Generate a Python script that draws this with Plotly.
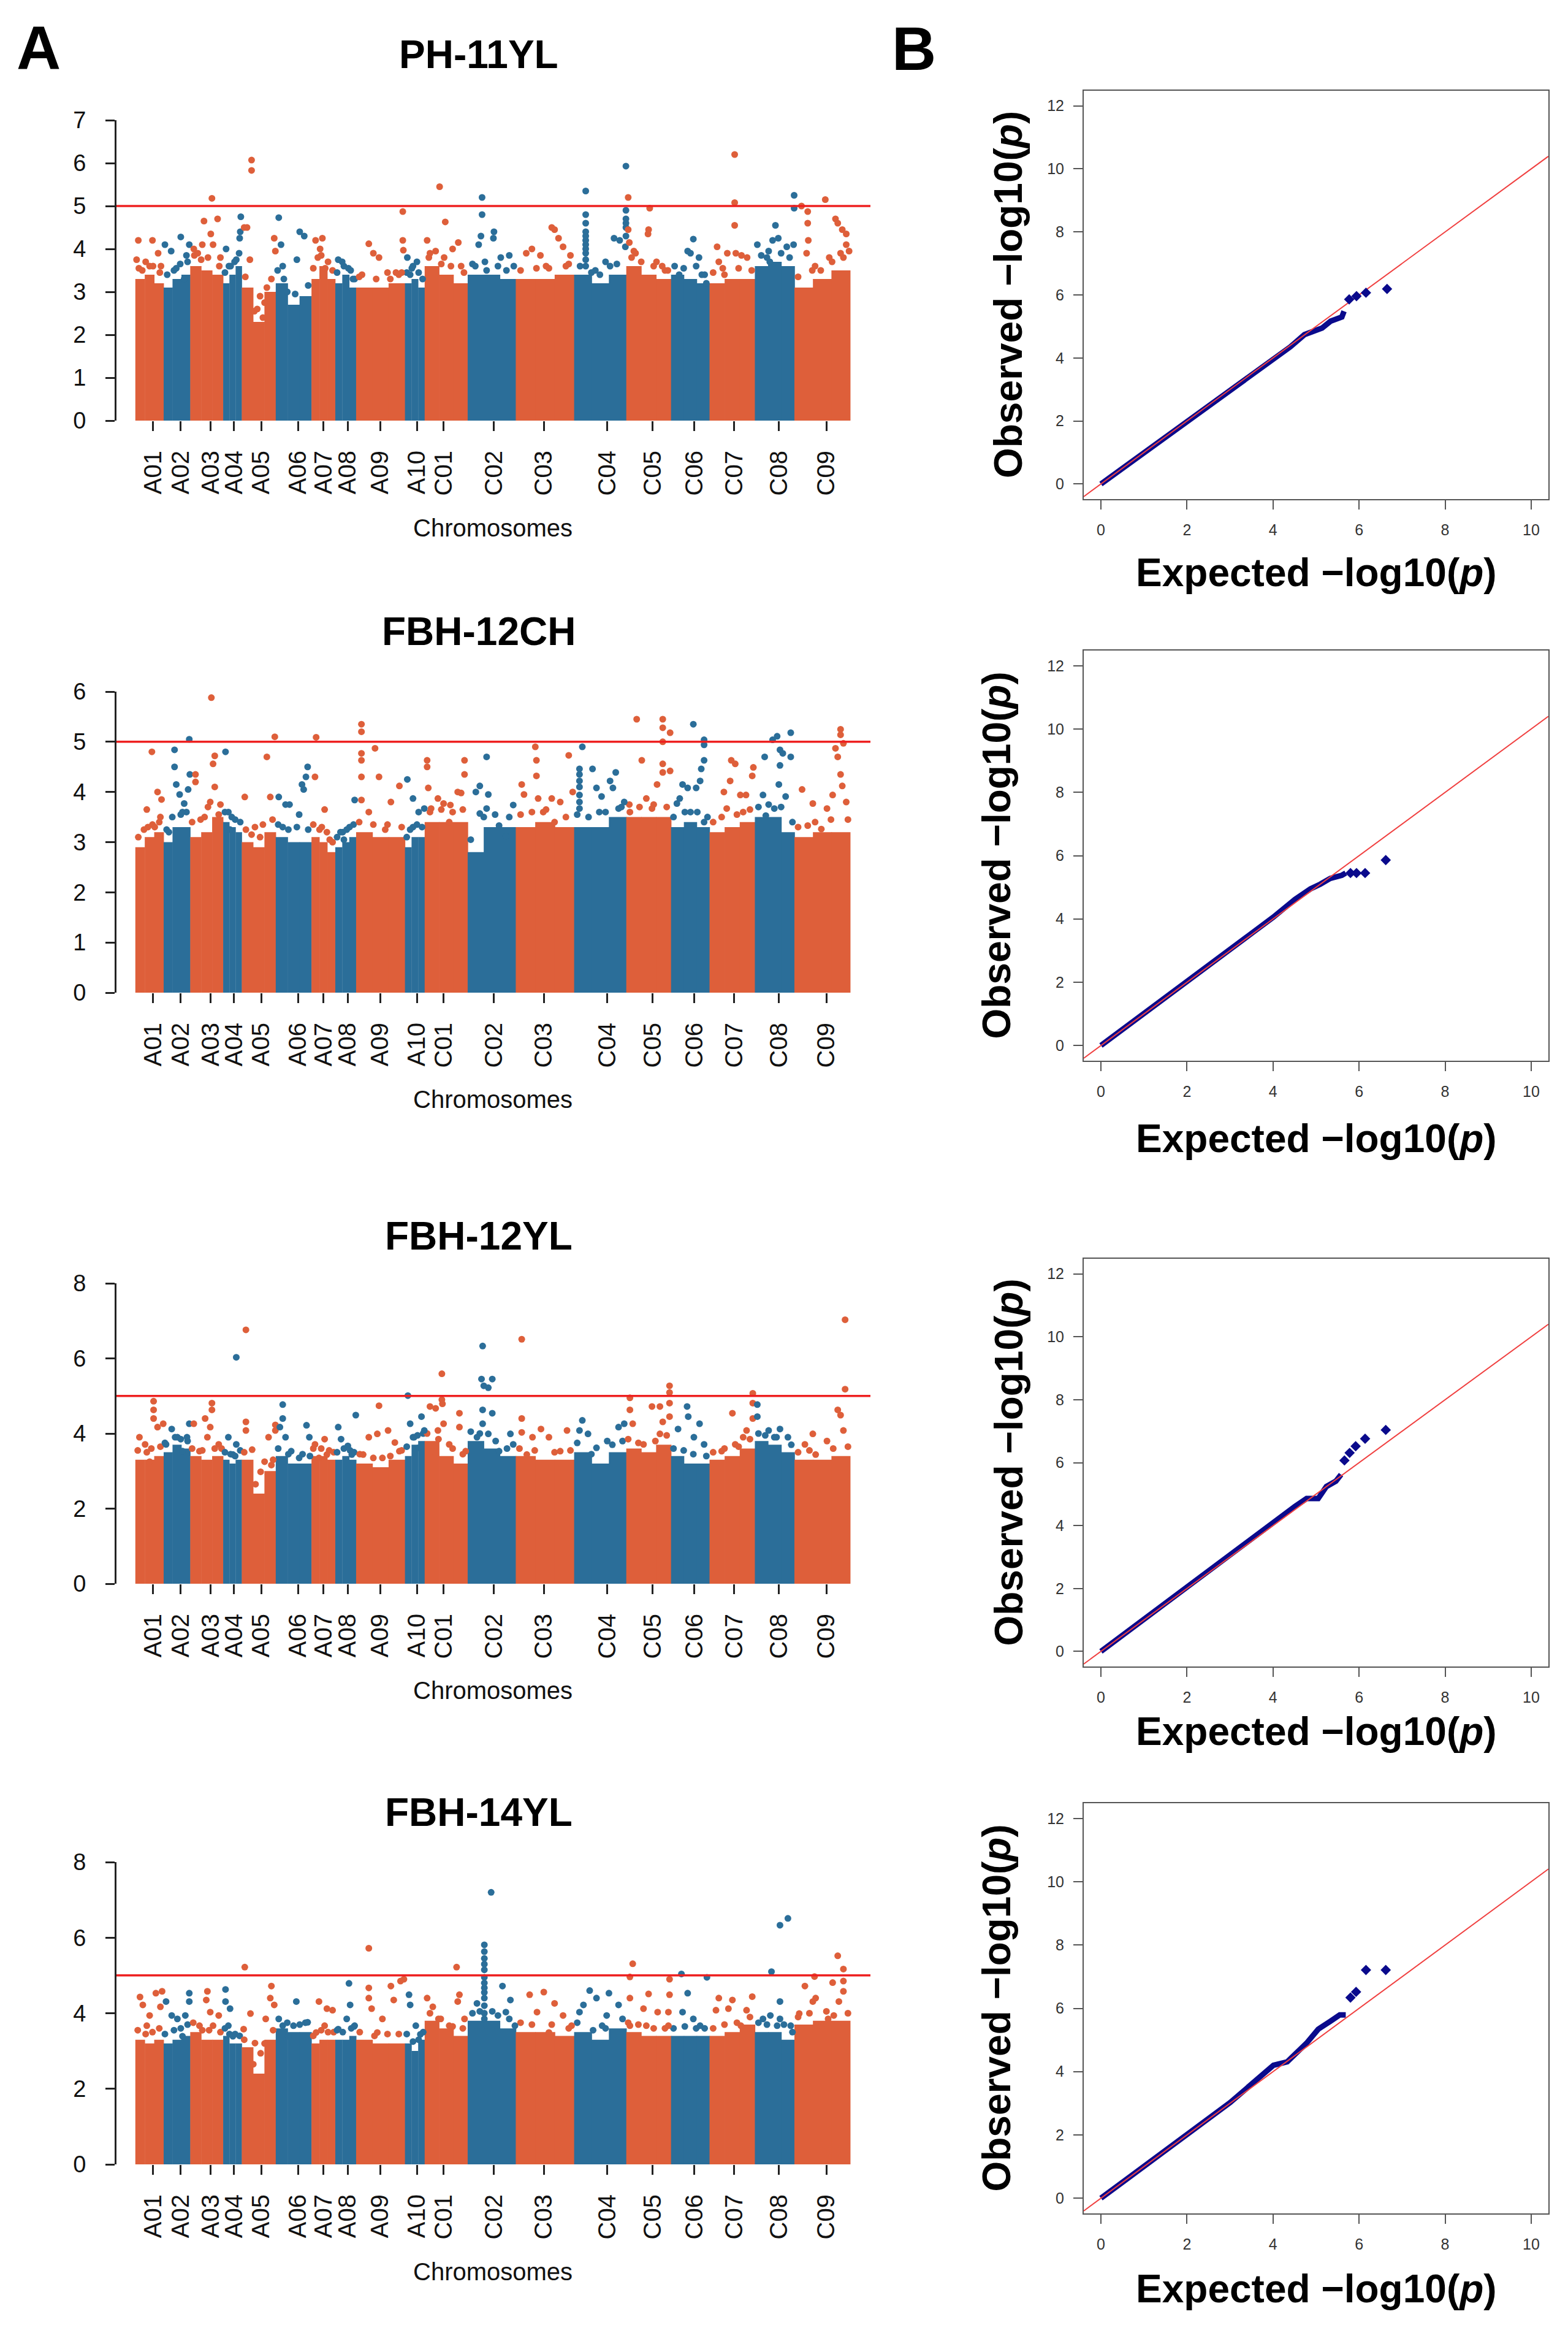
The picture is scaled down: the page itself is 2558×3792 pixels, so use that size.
import numpy as np
import plotly.graph_objects as go

W, H = 2558, 3792
PAGE_PAD = 8  # the html body margin shifts the figure by this many pixels

chrom = ["A01", "A02", "A03", "A04", "A05", "A06", "A07", "A08", "A09", "A10",
         "C01", "C02", "C03", "C04", "C05", "C06", "C07", "C08", "C09"]
chr_len = [50, 47, 58, 33, 60, 63, 42, 37, 86, 35, 76, 85, 103, 92, 79, 68, 80, 70, 98]
chr_tick = [31, 80, 133, 174, 222, 287, 332, 375, 432, 497, 544, 633, 721, 833, 913, 987, 1057, 1136, 1220]

orange = "#DE5F3A"
blue = "#2B6E99"

# ---- Manhattan data: dense level (3 segments per chromosome), points just above it, and peaks ----
ph11yl_core = [[3.3, 3.4, 3.2], [3.1, 3.3, 3.4], [3.6, 3.5, 3.4], [3.2, 3.4, 3.6], [3.1, 2.3, 3.0],
               [3.2, 2.7, 2.9], [3.3, 3.6, 3.3], [3.2, 3.4, 3.1], [3.1, 3.1, 3.2], [3.2, 3.3, 3.1],
               [3.6, 3.4, 3.2], [3.4, 3.4, 3.3], [3.3, 3.3, 3.4], [3.4, 3.2, 3.4], [3.6, 3.4, 3.3],
               [3.4, 3.3, 3.2], [3.2, 3.3, 3.3], [3.6, 3.7, 3.6], [3.1, 3.3, 3.5]]
ph11yl_fringe_pos = [6, 18, 31, 43, 56, 68, 79, 92, 104, 116, 128, 148, 158, 168, 178, 183,
                     194, 210, 228, 240, 251, 268, 282, 305, 314, 328, 340, 348, 356, 368, 376, 387,
                     395, 425, 450, 465, 479, 488, 500, 507, 518, 540, 557, 580, 595, 617, 640, 655,
                     680, 708, 730, 765, 785, 805, 838, 850, 876, 893, 915, 935, 952, 968, 990, 1005,
                     1020, 1037, 1065, 1088, 1105, 1118, 1140, 1155, 1170, 1195, 1230, 1250]
ph11yl_fringe_val = [3.55, 3.7, 3.6, 3.45, 3.4, 3.5, 3.65, 3.7, 3.85, 3.75, 3.8, 3.6, 3.45, 3.6, 3.75, 3.9,
                     3.35, 2.55, 2.75, 3.3, 3.5, 3.0, 2.95, 3.15, 3.55, 3.85, 3.7, 3.5, 3.45, 3.6, 3.55, 3.3,
                     3.35, 3.3, 3.3, 3.4, 3.45, 3.55, 3.45, 3.3, 3.8, 3.65, 3.6, 3.45, 3.65, 3.7, 3.6, 3.5,
                     3.5, 3.55, 3.55, 3.65, 3.6, 3.45, 3.6, 3.65, 3.8, 3.7, 3.6, 3.5, 3.6, 3.55, 3.6, 3.4,
                     3.45, 3.55, 3.55, 3.5, 3.85, 3.95, 3.9, 3.8, 3.35, 3.5, 3.7, 3.8]
ph11yl_pos = [2, 5, 12, 25, 30, 40, 45,
              52, 63, 72, 80, 86, 90, 95,
              103, 110, 118, 121, 133, 135, 137, 145, 150,
              160, 165, 175, 184, 185, 186,
              192, 197, 202, 205, 205, 215, 220, 225, 232, 245, 247,
              253, 257, 260, 262, 285, 290, 298,
              318, 322, 326, 330, 335,
              358, 365, 380, 384,
              400, 412, 420, 430, 445, 460, 470, 472, 472, 473,
              480, 485, 490, 497,
              515, 520, 530, 537, 545, 547, 560, 570, 575,
              600, 606, 610, 612, 612, 620, 632, 633, 645, 660, 668,
              690, 700, 715, 725, 735, 740, 747, 755, 760, 768,
              795, 795, 795, 795, 795, 795, 795, 795, 795, 795, 795, 812, 820, 830, 845, 855,
              865, 866, 866, 866, 866, 866, 866,
              870, 870, 872, 880, 883, 905, 906, 908, 920, 930, 940,
              960, 975, 980, 985, 995, 1000, 1008,
              1027, 1030, 1040, 1045, 1058, 1058, 1058, 1060, 1070, 1080,
              1098, 1115, 1120, 1125, 1130, 1135, 1150, 1162, 1163, 1163,
              1176, 1185, 1187, 1187, 1188, 1200, 1210, 1218, 1225, 1236, 1240, 1245, 1248, 1255, 1255, 1260]
ph11yl_val = [3.75, 4.2, 3.5, 3.6, 4.2, 3.9, 3.6,
              4.1, 3.95, 3.55, 4.28, 3.3, 3.85, 4.1,
              4.0, 3.9, 4.1, 4.65, 4.35, 5.18, 4.1, 4.7, 3.8,
              4.0, 3.6, 3.7, 4.25, 4.4, 4.75,
              4.5, 4.5, 3.75, 6.07, 5.83, 2.6, 2.9, 2.4, 3.1, 4.25, 3.95,
              4.73, 4.1, 3.6, 3.3, 3.75, 4.4, 4.3,
              4.2, 3.8, 4.0, 4.25, 3.55,
              3.75, 3.7, 3.5, 3.3,
              3.4, 4.12, 3.9, 3.8, 3.45, 3.45, 3.45, 4.87, 4.2, 3.97,
              3.8, 3.4, 3.6, 3.7,
              4.2, 3.9, 3.95, 5.45, 3.8, 4.63, 4.0, 4.15, 3.6,
              3.6, 4.1, 4.3, 4.8, 5.2, 3.5, 4.25, 4.4, 3.8, 3.85, 3.6,
              3.9, 4.0, 3.85, 3.6, 4.5, 4.45, 4.25, 4.05, 3.6, 3.85,
              3.6, 3.75, 3.9, 4.0, 4.1, 4.2, 4.3, 4.4, 4.6, 4.8, 5.35, 3.5, 3.4, 3.7, 4.25, 4.2,
              4.05, 4.3, 4.5, 4.6, 4.7, 4.9, 5.93,
              5.2, 4.45, 4.15, 3.95, 3.9, 4.35, 4.45, 4.95, 3.7, 3.6, 3.5,
              3.4, 3.95, 3.9, 4.23, 3.8, 3.4, 3.2,
              4.05, 3.7, 3.4, 3.9, 6.2, 5.08, 4.55, 3.9, 3.85, 3.8,
              4.1, 3.8, 3.7, 4.2, 4.55, 4.25, 4.05, 4.1, 4.95, 5.25,
              5.0, 3.9, 4.87, 4.6, 4.2, 3.6, 3.5, 5.15, 3.8, 4.7, 4.6, 3.9, 4.45, 4.35, 4.1, 3.95]

fbh12ch_core = [[2.9, 3.1, 3.2], [3.0, 3.3, 3.3], [3.1, 3.2, 3.5], [3.4, 3.3, 3.2], [3.0, 2.9, 3.2],
                [3.1, 3.0, 3.0], [3.1, 3.0, 2.8], [2.9, 3.0, 3.1], [3.2, 3.1, 3.1], [2.9, 3.1, 3.1],
                [3.4, 3.4, 3.4], [2.8, 3.3, 3.3], [3.3, 3.4, 3.3], [3.3, 3.3, 3.5], [3.5, 3.5, 3.5],
                [3.3, 3.4, 3.3], [3.2, 3.3, 3.4], [3.5, 3.5, 3.2], [3.1, 3.2, 3.2]]
fbh12ch_fringe_pos = [5, 22, 30, 42, 55, 65, 80, 90, 100, 115, 128, 150, 158, 170, 176, 185,
                      195, 205, 225, 242, 252, 270, 285, 305, 314, 325, 338, 348, 356, 366, 378, 385,
                      395, 420, 445, 470, 479, 490, 497, 506, 520, 540, 560, 578, 592, 615, 635, 660,
                      680, 700, 725, 760, 780, 800, 830, 858, 872, 890, 915, 938, 950, 970, 992, 1010,
                      1020, 1035, 1062, 1085, 1100, 1118, 1140, 1160, 1170, 1200, 1228, 1258]
fbh12ch_fringe_val = [3.1, 3.3, 3.35, 3.4, 3.25, 3.5, 3.55, 3.6, 3.4, 3.45, 3.7, 3.75, 3.6, 3.5, 3.45, 3.4,
                      3.25, 3.15, 3.35, 3.45, 3.35, 3.25, 3.3, 3.25, 3.35, 3.25, 3.2, 3.0, 3.1, 3.2, 3.3, 3.35,
                      3.4, 3.35, 3.35, 3.3, 3.1, 3.3, 3.35, 3.3, 3.6, 3.65, 3.6, 3.65, 3.05, 3.5, 3.55, 3.5,
                      3.55, 3.6, 3.65, 3.5, 3.55, 3.5, 3.6, 3.7, 3.75, 3.7, 3.75, 3.7, 3.5, 3.6, 3.6, 3.5,
                      3.4, 3.5, 3.55, 3.65, 3.7, 3.75, 3.7, 3.4, 3.3, 3.4, 3.45, 3.45]
fbh12ch_pos = [15, 20, 29, 34, 39, 44, 46,
               59, 69, 69, 72, 78, 83, 86, 93, 95, 96,
               106, 106, 122, 132, 134, 137, 140, 140, 147,
               159, 164, 167,
               193, 211, 220, 232, 238, 246,
               253, 260, 265, 272, 289, 294, 297, 301, 304,
               317, 319, 329, 334, 343,
               362, 368, 373, 387,
               399, 399, 399, 399, 399, 399, 412, 423, 430, 441, 451, 466,
               480, 485, 490, 500, 510,
               515, 515, 517, 522, 534, 544, 554, 556, 569, 575, 581, 581,
               601, 608, 608, 620, 620, 623, 642, 654, 667,
               682, 686, 706, 708, 708, 711, 720, 735, 740, 750, 765, 772,
               784, 784, 784, 784, 784, 784, 784, 789, 807, 814, 819, 823, 838, 843, 848, 853, 863,
               873, 885, 894, 902, 912, 921, 931, 931, 931, 931, 931, 944, 944,
               956, 961, 966, 975, 980, 985, 990, 997, 999, 1004, 1004, 1004, 1004,
               1039, 1044, 1050, 1052, 1059, 1068, 1073, 1078, 1089, 1091,
               1108, 1111, 1113, 1125, 1128, 1133, 1136, 1138, 1138, 1143, 1148, 1157, 1157,
               1177, 1187, 1196, 1211, 1221, 1231, 1236, 1240, 1245, 1245, 1245, 1248, 1250, 1255]
fbh12ch_val = [3.25, 3.65, 4.8, 3.3, 4.0, 3.5, 3.85,
               3.2, 4.84, 4.5, 4.15, 3.95, 3.6, 3.77, 4.05, 5.05, 4.35,
               4.35, 4.2, 3.5, 3.8, 5.88, 4.56, 4.72, 4.1, 3.55,
               4.8, 3.6, 3.25,
               3.9, 3.3, 3.1, 4.7, 3.9, 5.1,
               3.9, 3.3, 3.75, 3.75, 3.55, 4.15, 4.05, 4.3, 4.5,
               4.3, 5.09, 3.3, 3.65, 3.05,
               3.2, 3.05, 3.25, 3.84,
               3.84, 4.3, 4.63, 4.77, 5.2, 5.35, 3.6, 4.87, 4.3, 3.25, 3.8, 4.12,
               4.25, 3.25, 3.87, 3.6, 3.67,
               4.63, 4.5, 4.08, 3.67, 3.87, 3.77, 3.4, 3.74, 4.0, 3.98, 4.35, 4.63,
               4.0, 4.12, 3.57, 4.7, 3.67, 3.95, 3.33, 3.12, 3.74,
               4.15, 3.95, 4.9, 4.63, 4.32, 3.87, 3.6, 3.87, 3.4, 3.8, 4.73, 4.0,
               3.67, 3.8, 3.94, 4.1, 4.22, 4.35, 4.46, 4.9, 4.46, 4.08, 3.6, 3.91, 4.22, 4.08, 4.39, 3.67, 3.8,
               3.6, 5.45, 4.63, 3.87, 3.67, 4.15, 4.39, 4.56, 5.0, 5.28, 5.45, 4.42, 5.18,
               3.77, 3.87, 4.15, 4.08, 3.6, 5.35, 4.08, 4.22, 4.46, 4.63, 4.94, 5.04, 3.4,
               4.0, 3.67, 4.22, 4.63, 4.56, 3.94, 3.6, 3.94, 4.32, 4.49,
               3.94, 4.7, 3.53, 5.04, 3.67, 5.11, 4.15, 4.84, 4.53, 4.77, 3.91, 4.7, 5.18,
               4.05, 3.33, 3.77, 3.26, 3.67, 3.94, 4.87, 4.7, 4.35, 5.14, 5.25, 4.12, 4.97, 3.8]

fbh12yl_core = [[3.3, 3.3, 3.4], [3.5, 3.7, 3.6], [3.4, 3.3, 3.4], [3.3, 3.2, 3.3], [3.3, 2.4, 3.0],
                [3.4, 3.2, 3.2], [3.4, 3.4, 3.3], [3.3, 3.4, 3.3], [3.2, 3.1, 3.3], [3.4, 3.7, 3.8],
                [3.8, 3.4, 3.2], [3.8, 3.6, 3.4], [3.4, 3.3, 3.3], [3.5, 3.2, 3.5], [3.6, 3.5, 3.7],
                [3.4, 3.2, 3.2], [3.3, 3.4, 3.6], [3.8, 3.7, 3.5], [3.3, 3.3, 3.4]]
fbh12yl_fringe_pos = [4, 20, 28, 44, 52, 70, 80, 92, 100, 118, 140, 152, 158, 168, 176, 185,
                      192, 212, 228, 243, 252, 270, 295, 308, 314, 328, 342, 350, 356, 368, 379, 386,
                      396, 420, 450, 470, 479, 492, 498, 508, 515, 535, 560, 578, 592, 608, 636, 656,
                      678, 705, 740, 768, 780, 805, 842, 860, 870, 888, 918, 938, 950, 968, 985, 1008,
                      1020, 1040, 1065, 1085, 1100, 1112, 1132, 1158, 1170, 1190, 1232, 1258]
fbh12yl_fringe_val = [3.55, 3.5, 3.6, 3.65, 3.75, 3.9, 3.85, 3.8, 3.6, 3.55, 3.6, 3.6, 3.5, 3.45, 3.4, 3.55,
                      3.5, 2.65, 3.25, 3.3, 3.6, 3.45, 3.45, 3.4, 3.6, 3.6, 3.55, 3.5, 3.5, 3.6, 3.55, 3.5,
                      3.45, 3.35, 3.4, 3.55, 3.65, 3.9, 3.95, 4.0, 4.0, 3.85, 3.6, 3.45, 4.05, 4.0, 3.8, 3.6,
                      3.6, 3.55, 3.5, 3.55, 3.75, 3.45, 3.7, 3.8, 3.85, 3.75, 3.8, 3.95, 3.6, 3.55, 3.45, 3.4,
                      3.5, 3.6, 3.65, 3.85, 4.0, 3.95, 3.9, 3.7, 3.5, 3.55, 3.6, 3.65]
fbh12yl_pos = [7, 17, 25, 32, 32, 32, 39, 49,
               54, 64, 74, 83, 91, 95,
               103, 113, 123, 127, 132, 135, 135, 147,
               164, 172, 178, 178,
               195, 195, 195, 206, 221, 235, 240, 247, 247,
               255, 260, 260, 265, 275, 289, 302, 307,
               317, 324, 334, 338,
               358, 363, 375, 382, 389,
               402, 412, 427, 430, 436, 446, 458, 466,
               481, 485, 490, 500, 505, 510,
               520, 525, 530, 534, 541, 541, 542, 544, 554, 572, 572, 583,
               603, 611, 613, 613, 613, 615, 623, 623, 630, 630, 642, 662, 667,
               682, 682, 682, 691, 701, 716, 730, 750, 762,
               784, 789, 799, 814, 833, 853, 863,
               873, 873, 878, 897, 912, 926, 926, 931, 943, 943, 943, 943,
               958, 974, 976, 986, 996, 1004,
               1035, 1054, 1059, 1073, 1079, 1090, 1090, 1090,
               1098, 1098, 1118, 1128, 1138, 1152,
               1182, 1196, 1201, 1221, 1240, 1245, 1250, 1253, 1253]
fbh12yl_val = [3.9, 3.71, 3.25, 4.4, 4.63, 4.86, 4.17, 4.26,
               3.71, 4.12, 3.9, 3.53, 3.9, 4.26,
               4.26, 3.53, 4.4, 3.9, 4.17, 4.63, 4.81, 3.71,
               3.9, 3.44, 3.71, 6.03,
               6.76, 4.31, 4.08, 3.57, 2.98, 3.9, 3.16, 4.08, 4.23,
               4.17, 4.4, 4.77, 3.9, 3.53, 3.35, 4.22, 3.9,
               3.71, 3.35, 3.85, 3.44,
               4.17, 3.85, 3.67, 3.44, 4.49,
               3.44, 3.9, 3.99, 4.74, 3.35, 4.08, 3.76, 3.53,
               5.01, 4.26, 3.9, 3.62, 4.45, 4.08,
               4.72, 3.53, 4.67, 4.08, 5.59, 4.9, 4.79, 4.26, 3.71, 4.17, 4.54, 3.53,
               3.9, 5.45, 4.26, 4.63, 6.33, 5.27, 3.99, 5.22, 4.54, 5.45, 3.53, 3.99, 3.71,
               4.03, 4.4, 6.51, 3.44, 3.9, 4.12, 3.9, 3.53, 4.08,
               4.08, 4.35, 3.99, 3.62, 3.8, 4.17, 4.26,
               4.63, 4.95, 4.26, 3.71, 4.72, 3.99, 4.72, 4.31, 4.45, 4.81, 5.09, 5.27,
               4.12, 4.72, 4.45, 3.9, 4.26, 3.71,
               3.53, 4.54, 3.71, 3.9, 4.08, 4.4, 4.81, 5.07,
               4.45, 4.77, 4.08, 3.9, 4.12, 3.9,
               3.71, 3.99, 3.44, 3.8, 4.63, 4.49, 4.08, 5.18, 7.03]

fbh14yl_core = [[3.3, 3.2, 3.3], [3.2, 3.3, 3.4], [3.5, 3.3, 3.3], [3.4, 3.2, 3.2], [3.1, 2.4, 3.3],
                [3.6, 3.5, 3.5], [3.2, 3.3, 3.3], [3.3, 3.3, 3.4], [3.3, 3.2, 3.2], [3.2, 3.0, 3.3],
                [3.8, 3.6, 3.4], [3.8, 3.8, 3.6], [3.5, 3.5, 3.4], [3.5, 3.3, 3.6], [3.5, 3.4, 3.4],
                [3.4, 3.4, 3.4], [3.4, 3.5, 3.7], [3.5, 3.5, 3.3], [3.7, 3.8, 3.8]]
fbh14yl_fringe_pos = [4, 18, 30, 42, 52, 68, 80, 92, 102, 118, 130, 150, 158, 166, 176, 184,
                      192, 208, 228, 243, 253, 268, 290, 300, 314, 328, 340, 350, 356, 366, 381, 386,
                      396, 422, 445, 465, 479, 490, 500, 508, 520, 535, 560, 578, 595, 608, 630, 660,
                      680, 700, 735, 765, 780, 808, 830, 860, 870, 888, 915, 935, 950, 970, 990, 1005,
                      1020, 1040, 1062, 1085, 1100, 1115, 1145, 1160, 1170, 1190, 1220, 1258]
fbh14yl_fringe_val = [3.55, 3.45, 3.5, 3.6, 3.45, 3.55, 3.6, 3.7, 3.75, 3.55, 3.55, 3.5, 3.6, 3.45, 3.45, 3.4,
                      3.3, 2.65, 3.2, 3.55, 3.85, 3.75, 3.7, 3.75, 3.4, 3.55, 3.5, 3.5, 3.55, 3.5, 3.6, 3.65,
                      3.5, 3.4, 3.45, 3.45, 3.45, 3.25, 3.3, 3.5, 4.0, 3.85, 3.65, 3.6, 4.0, 4.05, 4.05, 3.85,
                      3.75, 3.7, 3.7, 3.6, 3.75, 3.55, 3.6, 3.85, 3.75, 3.7, 3.6, 3.6, 3.6, 3.65, 3.6, 3.6,
                      3.6, 3.7, 3.75, 3.9, 3.75, 3.7, 3.7, 3.5, 3.9, 4.0, 4.05, 4.0]
fbh14yl_pos = [8, 13, 20, 25, 36, 44, 47,
               54, 64, 74, 83, 88, 95, 95,
               113, 125, 127, 132, 137, 147,
               159, 159, 164, 167, 172,
               191, 193, 203, 211, 221, 230, 238, 240, 245,
               260, 270, 279, 284, 304,
               319, 324, 334, 338, 348,
               358, 373, 377, 379, 387,
               412, 412, 412, 417, 427, 436, 451, 456, 468, 474,
               483, 485, 495, 503,
               515, 525, 539, 554, 567, 569, 572, 581,
               603, 616, 616, 616, 616, 616, 616, 616, 616, 616, 616, 616, 616, 616,
               628, 640, 648, 654, 662, 670,
               696, 709, 721, 730, 740, 755, 770,
               784, 791, 802, 814, 824, 832, 836, 853,
               873, 873, 873, 878, 897, 902, 906, 922, 941, 941, 943, 943,
               964, 966, 975, 985, 997, 1009,
               1025, 1030, 1047, 1054, 1069, 1079, 1089,
               1108, 1121, 1123, 1133, 1138, 1138, 1138, 1152, 1157,
               1172, 1182, 1196, 1199, 1201, 1211, 1223, 1231, 1233, 1240, 1242, 1250, 1250, 1250]
fbh14yl_val = [4.43, 4.22, 3.67, 3.94, 4.53, 4.17, 4.58,
               4.31, 3.94, 3.85, 3.39, 3.94, 4.31, 4.53,
               3.67, 4.35, 4.58, 4.03, 3.67, 3.94,
               4.63, 4.31, 3.67, 4.12, 3.39,
               3.58, 5.22, 3.99, 3.21, 2.94, 3.85, 4.4, 4.72, 4.22,
               3.67, 3.39, 3.67, 4.31, 3.76,
               3.49, 4.31, 3.67, 4.12, 4.08,
               3.58, 3.85, 4.79, 4.22, 3.67,
               4.4, 4.67, 5.72, 4.12, 3.49, 3.85, 4.72, 4.35, 4.85, 4.9,
               4.49, 4.22, 3.67, 3.44,
               4.4, 4.17, 3.85, 3.67, 5.22, 4.31, 4.49, 3.85,
               4.26, 3.85, 4.0, 4.2, 4.4, 4.55, 4.67, 4.8, 4.95, 5.15, 5.3, 5.45, 5.63, 5.81, 7.2,
               3.94, 4.72, 4.03, 4.35, 3.67, 4.49,
               4.03, 4.56, 3.49, 4.26, 3.94, 3.67, 4.03,
               4.22, 4.6, 4.4, 3.67, 3.94, 4.53, 4.22, 3.67,
               4.4, 4.96, 5.31, 4.12, 3.67, 4.51, 4.03, 3.67, 4.03, 4.49, 4.9, 5.04,
               4.03, 4.53, 3.85, 3.67, 4.95, 4.08,
               4.4, 4.12, 4.35, 3.67, 4.08, 4.44, 3.85,
               3.94, 5.1, 3.67, 3.85, 4.31, 6.33, 6.51, 3.67, 3.99,
               4.72, 4.31, 4.97, 4.4, 3.67, 3.85, 4.81, 3.94, 5.52, 4.31, 5.17, 4.58, 4.85, 5.4]

# ---- QQ data: main band vertices and the upper tail points ----
qq1_exp = [0, 1, 2, 3, 4, 4.4, 4.73, 5.0, 5.14, 5.34, 5.6, 5.65]
qq1_obs = [0, 1, 2, 3, 4.0, 4.35, 4.74, 4.85, 4.95, 5.17, 5.3, 5.48]
qq1_tail_exp = [5.77, 5.94, 6.16, 6.65]
qq1_tail_obs = [5.86, 5.96, 6.07, 6.19]

qq2_exp = [0, 1, 2, 3, 3.5, 4, 4.51, 4.87, 5.1, 5.33, 5.6, 5.69]
qq2_obs = [0, 1, 2, 3, 3.5, 4.05, 4.62, 4.95, 5.1, 5.28, 5.38, 5.45]
qq2_tail_exp = [5.8, 5.94, 6.14, 6.62]
qq2_tail_obs = [5.45, 5.45, 5.45, 5.86]

qq3_exp = [0, 1, 2, 3, 4.01, 4.51, 4.78, 5.05, 5.24, 5.46, 5.58]
qq3_obs = [0, 1.03, 2.05, 3.05, 4.13, 4.61, 4.86, 4.86, 5.24, 5.41, 5.62]
qq3_tail_exp = [5.66, 5.78, 5.92, 6.14, 6.62]
qq3_tail_obs = [6.07, 6.31, 6.52, 6.76, 7.04]

qq4_exp = [0, 1, 2, 3, 4.01, 4.33, 4.78, 5.05, 5.33, 5.55, 5.69]
qq4_obs = [0, 1, 2, 3.02, 4.2, 4.31, 4.9, 5.34, 5.59, 5.79, 5.79]
qq4_tail_exp = [5.8, 5.93, 6.16, 6.62]
qq4_tail_obs = [6.34, 6.52, 7.21, 7.21]

qq_x_range = [-0.4, 10.4]
qq_y_range = [-0.48, 12.48]


def fx(px):
    return (px - PAGE_PAD) / W


def fy(py):
    return 1 - (py - PAGE_PAD) / H


def ax_id(n):
    return "" if n == 1 else str(n)


def label(text, px, py, size, angle=0, color="#000"):
    # text centred on a pixel position of the page
    return dict(text=text, x=fx(px), y=fy(py), xref="paper", yref="paper",
                xanchor="center", yanchor="middle", showarrow=False, textangle=angle,
                font=dict(size=size, family="Liberation Sans", color=color))


fig = go.Figure()

starts = np.concatenate([[0], np.cumsum(chr_len)[:-1]])
genome_end = sum(chr_len)
chr_color = [orange if i % 2 == 0 else blue for i in range(len(chrom))]

# pixel geometry of the Manhattan plots
man_x0, man_x1 = 190, 1420
data_x0, data_x1 = 221, 1387
ppu = (data_x1 - data_x0) / genome_end
x_lo = -(data_x0 - man_x0) / ppu
x_hi = genome_end + (man_x1 - data_x1) / ppu

manhattan = [
    ("PH-11YL", ph11yl_core, ph11yl_fringe_pos + ph11yl_pos, ph11yl_fringe_val + ph11yl_val,
     7, 1, 686, 196, 89, 861),
    ("FBH-12CH", fbh12ch_core, fbh12ch_fringe_pos + fbh12ch_pos, fbh12ch_fringe_val + fbh12ch_val,
     6, 1, 1619, 1128, 1030, 1793),
    ("FBH-12YL", fbh12yl_core, fbh12yl_fringe_pos + fbh12yl_pos, fbh12yl_fringe_val + fbh12yl_val,
     8, 2, 2583, 2093, 2016, 2757),
    ("FBH-14YL", fbh14yl_core, fbh14yl_fringe_pos + fbh14yl_pos, fbh14yl_fringe_val + fbh14yl_val,
     8, 2, 3530, 3037, 2956, 3705),
]

axis_font = dict(family="Liberation Sans", color="#111")
annotations = []
shapes = []

for n, (title, core, pos, val, top, dtick, y0, ytop, title_y, xlab_y) in enumerate(manhattan, start=1):
    a = ax_id(n)
    xa, ya = "x" + a, "y" + a
    bx, bw, by, bc = [], [], [], []
    for i, seg in enumerate(core):
        w = chr_len[i] / len(seg)
        for k, h in enumerate(seg):
            bx.append(starts[i] + (k + 0.5) * w)
            bw.append(w * 1.03)
            by.append(h)
            bc.append(chr_color[i])
    fig.add_trace(go.Bar(x=bx, y=by, width=bw, marker=dict(color=bc, line_width=0),
                         xaxis=xa, yaxis=ya, showlegend=False, hoverinfo="skip"))

    idx = np.searchsorted(starts, pos, side="right") - 1
    fig.add_trace(go.Scatter(x=pos, y=val, mode="markers",
                             marker=dict(size=11, color=[chr_color[i] for i in idx]),
                             cliponaxis=False, xaxis=xa, yaxis=ya, showlegend=False))

    shapes.append(dict(type="line", xref=xa + " domain", yref=ya, x0=0, x1=1, y0=5, y1=5,
                       line=dict(color="#EE2020", width=3.5)))

    fig.layout["xaxis" + a] = dict(
        domain=[fx(man_x0), fx(man_x1)], range=[x_lo, x_hi], anchor=ya, automargin=False,
        showline=False, showgrid=False, zeroline=False,
        tickmode="array", tickvals=chr_tick, ticktext=chrom, tickangle=-90,
        ticks="outside", ticklen=16, tickwidth=3, tickcolor="#222",
        tickfont=dict(size=40, **axis_font), ticklabelstandoff=16)
    fig.layout["yaxis" + a] = dict(
        domain=[fy(y0), fy(ytop)], range=[0, top], anchor=xa, automargin=False,
        showline=True, linecolor="#222", linewidth=3, showgrid=False, zeroline=False,
        tickmode="linear", tick0=0, dtick=dtick,
        ticks="outside", ticklen=15, tickwidth=3, tickcolor="#222",
        tickfont=dict(size=38, **axis_font), ticklabelstandoff=24)

    annotations.append(label(f"<b>{title}</b>", 781, title_y, 64))
    annotations.append(label("Chromosomes", 804, xlab_y, 40, color="#111"))

# QQ plots
qq = [
    (qq1_exp, qq1_obs, qq1_tail_exp, qq1_tail_obs, 148, 814, 934, 1645),
    (qq2_exp, qq2_obs, qq2_tail_exp, qq2_tail_obs, 1061, 1730, 1857, 1625),
    (qq3_exp, qq3_obs, qq3_tail_exp, qq3_tail_obs, 2053, 2718, 2824, 1645),
    (qq4_exp, qq4_obs, qq4_tail_exp, qq4_tail_obs, 2941, 3610, 3733, 1625),
]
qq_x0, qq_x1 = 1768, 2526
qq_font = dict(size=25, family="Liberation Sans", color="#333")

for j, (ex, ob, tex, tob, btop, bbot, exp_y, obs_x) in enumerate(qq, start=5):
    a = ax_id(j)
    xa, ya = "x" + a, "y" + a
    fig.add_trace(go.Scatter(x=ex, y=ob, mode="lines", line=dict(color="#0A0A8C", width=9),
                             xaxis=xa, yaxis=ya, showlegend=False))
    fig.add_trace(go.Scatter(x=qq_x_range, y=qq_x_range, mode="lines", line=dict(color="#F04040", width=2),
                             xaxis=xa, yaxis=ya, showlegend=False))
    fig.add_trace(go.Scatter(x=tex, y=tob, mode="markers",
                             marker=dict(symbol="diamond", size=13, color="#0A0A8C"),
                             xaxis=xa, yaxis=ya, showlegend=False))

    fig.layout["xaxis" + a] = dict(
        domain=[fx(qq_x0), fx(qq_x1)], range=qq_x_range, anchor=ya, automargin=False,
        showline=True, mirror=True, linecolor="#555", linewidth=2,
        showgrid=False, zeroline=False, tickmode="linear", tick0=0, dtick=2,
        ticks="outside", ticklen=15, tickwidth=2, tickcolor="#555",
        tickfont=qq_font, ticklabelstandoff=12)
    fig.layout["yaxis" + a] = dict(
        domain=[fy(bbot), fy(btop)], range=qq_y_range, anchor=xa, automargin=False,
        showline=True, mirror=True, linecolor="#555", linewidth=2,
        showgrid=False, zeroline=False, tickmode="linear", tick0=0, dtick=2,
        ticks="outside", ticklen=15, tickwidth=2, tickcolor="#555",
        tickfont=qq_font, ticklabelstandoff=10)

    annotations.append(label("<b>Expected \u2212log10(<i>p</i>)</b>", (qq_x0 + qq_x1) / 2, exp_y, 64))
    annotations.append(label("<b>Observed \u2212log10(<i>p</i>)</b>", obs_x, (btop + bbot) / 2, 64, angle=-90))

annotations.append(label("<b>A</b>", 63, 78, 100))
annotations.append(label("<b>B</b>", 1491, 79, 100))

fig.update_layout(width=W, height=H, autosize=False, margin=dict(l=0, r=0, t=0, b=0, pad=0),
                  paper_bgcolor="white", plot_bgcolor="white", barmode="overlay",
                  annotations=annotations, shapes=shapes)

fig.write_html("out.html")
